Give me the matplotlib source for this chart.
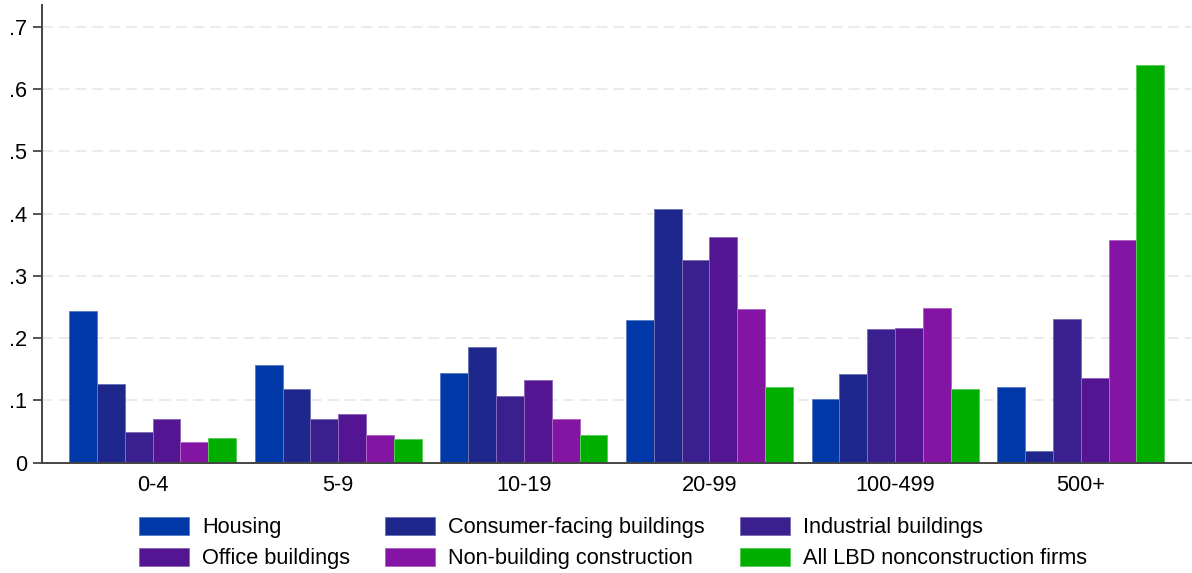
import numpy as np
import matplotlib.pyplot as plt
from matplotlib.colors import to_rgb


# share of firms by employment size class, construction subsectors vs. the rest of the LBD
size_classes = ['0-4', '5-9', '10-19', '20-99', '100-499', '500+']

housing = [0.243, 0.157, 0.144, 0.229, 0.102, 0.122]
consumer_facing = [0.126, 0.119, 0.185, 0.408, 0.143, 0.018]
industrial = [0.049, 0.070, 0.107, 0.325, 0.214, 0.231]
office = [0.070, 0.078, 0.133, 0.363, 0.217, 0.136]
non_building = [0.033, 0.044, 0.070, 0.247, 0.248, 0.357]
all_lbd = [0.039, 0.038, 0.044, 0.121, 0.118, 0.638]

series_names = ['Housing', 'Consumer-facing buildings', 'Industrial buildings',
                'Office buildings', 'Non-building construction',
                'All LBD nonconstruction firms']
series_colors = ['#0038A8', '#1E288C', '#3A1F8F', '#541593', '#8414A3', '#00AE00']

y_ticks = [0, 0.1, 0.2, 0.3, 0.4, 0.5, 0.6, 0.7]
y_tick_labels = ['0', '.1', '.2', '.3', '.4', '.5', '.6', '.7']


def lighten(c, amt=0.35):
    r, g, b = to_rgb(c)
    return (r + (1 - r) * amt, g + (1 - g) * amt, b + (1 - b) * amt)


if __name__ == '__main__':

    plt.rcParams['font.family'] = ['Liberation Sans', 'DejaVu Sans']
    fsize = 15.7

    fig = plt.figure(figsize=(11.92, 5.73), dpi=100)
    ax = fig.add_axes([0.0352, 0.1925, 0.9639, 0.7988])

    all_series = [housing, consumer_facing, industrial, office, non_building, all_lbd]
    x = np.arange(len(size_classes))
    width = 0.15

    bars = []
    for i, (vals, name, col) in enumerate(zip(all_series, series_names, series_colors)):
        b = ax.bar(x + (i - 2.5) * width, vals, width, color=col,
                   edgecolor=lighten(col), linewidth=0.7, label=name, zorder=3)
        bars.append(b)

    ax.set_xlim(-0.596, 5.594)
    ax.set_ylim(0, 0.735)

    ax.set_xticks(x)
    ax.set_xticklabels(size_classes, fontsize=fsize)
    ax.set_yticks(y_ticks)
    ax.set_yticklabels(y_tick_labels, fontsize=fsize)
    ax.tick_params(axis='x', length=0, pad=9)
    ax.tick_params(axis='y', length=6.5, width=1.3, color='#444444', pad=4)

    ax.yaxis.grid(True, color='#E6E6E6', linewidth=1.1, dashes=(7, 4), zorder=0)
    ax.set_axisbelow(True)

    for side in ['top', 'right']:
        ax.spines[side].set_visible(False)
    for side in ['left', 'bottom']:
        ax.spines[side].set_color('#444444')
        ax.spines[side].set_linewidth(1.4)
        ax.spines[side].set_zorder(4)

    # legend is filled row by row in the original, matplotlib fills by column
    order = [0, 3, 1, 4, 2, 5]
    fig.legend([bars[k] for k in order], [series_names[k] for k in order],
               loc='center', bbox_to_anchor=(613 / 1192, 1 - 543 / 573), ncol=3,
               fontsize=fsize, frameon=False, handlelength=2.3, handleheight=0.95,
               handletextpad=0.6, columnspacing=1.6, labelspacing=0.42,
               borderpad=0)

    plt.savefig('out.png', dpi=100)
